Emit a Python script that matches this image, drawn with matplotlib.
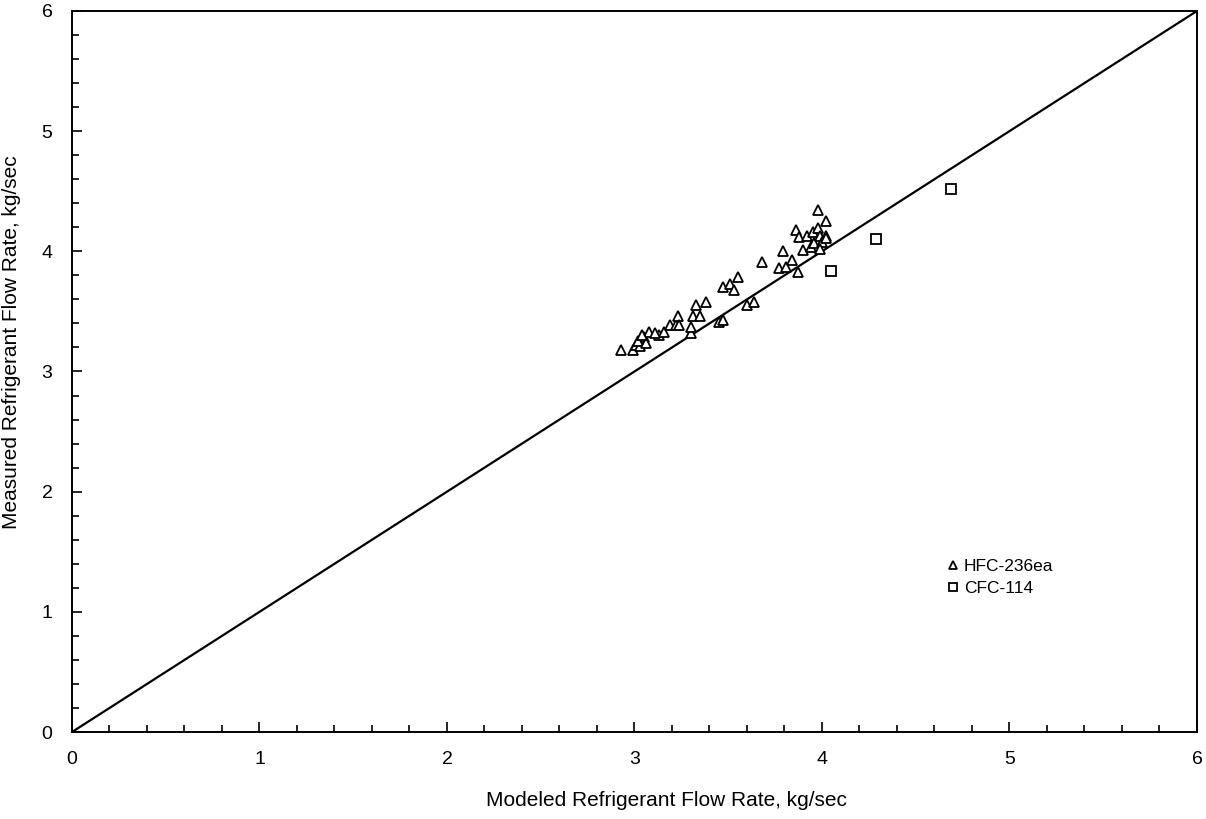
import numpy as np
import matplotlib.pyplot as plt
from matplotlib.ticker import MultipleLocator

plt.rcParams['font.family'] = ['Liberation Sans', 'DejaVu Sans']

# HFC-236ea points (modeled, measured)
hfc_x = [2.93, 2.99, 3.01, 3.03, 3.05, 3.08, 3.02, 3.06, 3.13, 3.16, 3.19, 3.22,
         3.23, 3.24, 3.30, 3.30, 3.31, 3.35, 3.33, 3.38, 3.45, 3.47, 3.47, 3.51,
         3.53, 3.55, 3.60, 3.64, 3.68, 3.77, 3.79, 3.81, 3.84, 3.87, 3.86, 3.88,
         3.90, 3.92, 3.94, 3.95, 3.96, 3.98, 3.98, 3.99, 4.00, 4.02, 4.02, 4.02,
         3.99, 3.11, 3.04]
hfc_y = [3.18, 3.18, 3.22, 3.21, 3.29, 3.33, 3.25, 3.24, 3.30, 3.33, 3.39, 3.39,
         3.46, 3.39, 3.32, 3.37, 3.46, 3.46, 3.55, 3.58, 3.41, 3.43, 3.70, 3.73,
         3.68, 3.79, 3.55, 3.58, 3.91, 3.86, 4.00, 3.87, 3.93, 3.83, 4.18, 4.12,
         4.01, 4.13, 4.04, 4.16, 4.07, 4.34, 4.19, 4.13, 4.08, 4.25, 4.13, 4.11,
         4.02, 3.32, 3.30]

# CFC-114 points
cfc_x = [4.05, 4.29, 4.69]
cfc_y = [3.84, 4.10, 4.52]

fig = plt.figure(figsize=(12.06, 8.19), dpi=100)
ax = fig.add_axes([0.0597, 0.1062, 0.9328, 0.8804])

# 1:1 line
ax.plot([0, 6], [0, 6], color='black', lw=1.6)

ax.plot(hfc_x, hfc_y, ls='none', marker='^', ms=7, mfc='white', mec='black',
        mew=1.3, label='HFC-236ea')
ax.plot(cfc_x, cfc_y, ls='none', marker='s', ms=7, mfc='white', mec='black',
        mew=1.3, label='CFC-114')

ax.set_xlim(0, 6)
ax.set_ylim(0, 6)
ax.xaxis.set_major_locator(MultipleLocator(1))
ax.yaxis.set_major_locator(MultipleLocator(1))
ax.xaxis.set_minor_locator(MultipleLocator(0.2))
ax.yaxis.set_minor_locator(MultipleLocator(0.2))
ax.tick_params(which='both', direction='in', top=False, right=False,
               labelsize=14, width=1.2)
ax.tick_params(which='major', length=7)
ax.tick_params(axis='x', which='major', pad=14)
ax.tick_params(axis='y', which='major', pad=14)
ax.tick_params(which='minor', length=5)
for s in ax.spines.values():
    s.set_linewidth(1.4)

ax.set_xlabel('Modeled Refrigerant Flow Rate, kg/sec', fontsize=15)
ax.set_ylabel('Measured Refrigerant Flow Rate, kg/sec', fontsize=15)
ax.xaxis.set_label_coords(0.528, -0.082)
ax.yaxis.set_label_coords(-0.045, 0.54)

ax.legend(loc='upper left', bbox_to_anchor=(0.765, 0.262), frameon=False,
          fontsize=12.5, handlelength=0.6, handletextpad=0.3, labelspacing=0.4,
          markerscale=0.8)

plt.savefig('out.png', dpi=100)
